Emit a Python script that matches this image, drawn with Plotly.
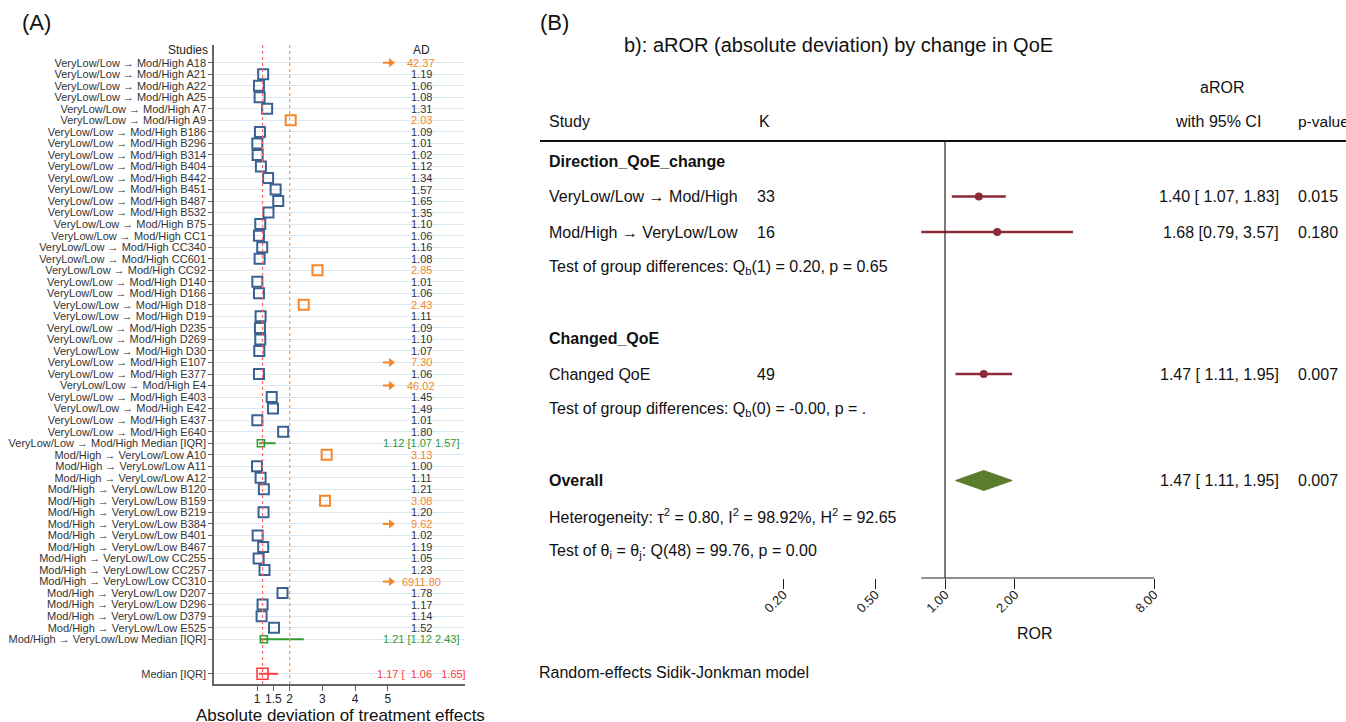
import plotly.graph_objects as go
import numpy as np

W, H = 1346, 722

# ---------------- Panel A data ----------------
vl_ids = ["A18", "A21", "A22", "A25", "A7", "A9", "B186", "B296", "B314", "B404", "B442",
          "B451", "B487", "B532", "B75", "CC1", "CC340", "CC601", "CC92", "D140", "D166",
          "D18", "D19", "D235", "D269", "D30", "E107", "E377", "E4", "E403", "E42", "E437", "E640"]
vl_ad = [42.37, 1.19, 1.06, 1.08, 1.31, 2.03, 1.09, 1.01, 1.02, 1.12, 1.34,
         1.57, 1.65, 1.35, 1.10, 1.06, 1.16, 1.08, 2.85, 1.01, 1.06,
         2.43, 1.11, 1.09, 1.10, 1.07, 7.30, 1.06, 46.02, 1.45, 1.49, 1.01, 1.80]
mh_ids = ["A10", "A11", "A12", "B120", "B159", "B219", "B384", "B401", "B467",
          "CC255", "CC257", "CC310", "D207", "D296", "D379", "E525"]
mh_ad = [3.13, 1.00, 1.11, 1.21, 3.08, 1.20, 9.62, 1.02, 1.19,
         1.05, 1.23, 6911.80, 1.78, 1.17, 1.14, 1.52]
vl_median_iqr = [1.12, 1.07, 1.57]
mh_median_iqr = [1.21, 1.12, 2.43]
all_median_iqr = [1.17, 1.06, 1.65]
vl_prefix = "VeryLow/Low \u2192 Mod/High"
mh_prefix = "Mod/High \u2192 VeryLow/Low"
a_ticks = [1, 1.5, 2, 3, 4, 5]

# ---------------- Panel B data ----------------
b_labels = ["VeryLow/Low \u2192 Mod/High", "Mod/High \u2192 VeryLow/Low", "Changed QoE"]
b_k = [33, 16, 49]
b_est = [1.40, 1.68, 1.47]
b_lo = [1.07, 0.79, 1.11]
b_hi = [1.83, 3.57, 1.95]
b_p = ["0.015", "0.180", "0.007"]
b_rows = [1, 2, 6]
overall_est, overall_lo, overall_hi, overall_p = 1.47, 1.11, 1.95, "0.007"
b_ticks = [0.2, 0.5, 1, 2, 8]
b_ticktext = ["0.20", "0.50", "1.00", "2.00", "8.00"]

# ---------------- style ----------------
SANS = "Liberation Sans, Arial, sans-serif"
BFONT = "Liberation Sans, Arial, sans-serif"
BSIZE = 16
BLUE = "#3a6190"
ORANGE = "#f5862a"
GREEN = "#2f9a2f"
RED = "#ff3d3d"
DARKRED = "#8c2a3a"
DGREEN = "#5b7d2b"
TXT = "#333333"
ORANGE_T, CAP_T = 2.0, 5.0

def px_x(p):
    return p / W

def px_y(p):
    return 1 - p / H

# ---------------- Panel A geometry ----------------
A_X0, A_X1 = 214, 465          # axis pixel extent
A_ZERO, A_UNIT = 224.3, 32.7   # pixel of value 0, px per unit
A_Y0, A_Y1 = 45, 684
ROW0, STEP = 62.7, 11.53

labels, values, kinds = [], [], []
for s, v in zip(vl_ids, vl_ad):
    labels.append(f"{vl_prefix} {s}"); values.append(v); kinds.append("study")
labels.append(f"{vl_prefix} Median [IQR]"); values.append(vl_median_iqr); kinds.append("sub")
for s, v in zip(mh_ids, mh_ad):
    labels.append(f"{mh_prefix} {s}"); values.append(v); kinds.append("study")
labels.append(f"{mh_prefix} Median [IQR]"); values.append(mh_median_iqr); kinds.append("sub")
pos = list(range(len(labels)))
labels.append("Median [IQR]"); values.append(all_median_iqr); kinds.append("all")
pos.append(pos[-1] + 3)

fig = go.Figure()

bx, by, ox, oy, ax_, ay_ = [], [], [], [], [], []
for p, v, k in zip(pos, values, kinds):
    if k != "study":
        continue
    if v > CAP_T:
        ax_.append(CAP_T); ay_.append(p)
    elif v > ORANGE_T:
        ox.append(v); oy.append(p)
    else:
        bx.append(v); by.append(p)

fig.add_trace(go.Scatter(x=bx, y=by, mode="markers", xaxis="x", yaxis="y",
                         marker=dict(symbol="square-open", size=10, color=BLUE, line=dict(width=2, color=BLUE))))
fig.add_trace(go.Scatter(x=ox, y=oy, mode="markers", xaxis="x", yaxis="y",
                         marker=dict(symbol="square-open", size=10, color=ORANGE, line=dict(width=2, color=ORANGE))))
# arrows for truncated values
shx, shy = [], []
for x, y in zip(ax_, ay_):
    shx += [x - 0.15, x + 0.05, None]; shy += [y, y, None]
fig.add_trace(go.Scatter(x=shx, y=shy, mode="lines", xaxis="x", yaxis="y",
                         line=dict(color=ORANGE, width=2)))
fig.add_trace(go.Scatter(x=[x + 0.1 for x in ax_], y=ay_, mode="markers", xaxis="x", yaxis="y",
                         marker=dict(symbol="triangle-right", size=8, color=ORANGE)))
# medians
for p, v, k in zip(pos, values, kinds):
    if k == "study":
        continue
    col = GREEN if k == "sub" else RED
    sz = 7 if k == "sub" else 11
    fig.add_trace(go.Scatter(x=[v[1], v[2]], y=[p, p], mode="lines", xaxis="x", yaxis="y",
                             line=dict(color=col, width=2)))
    fig.add_trace(go.Scatter(x=[v[0]], y=[p], mode="markers", xaxis="x", yaxis="y",
                             marker=dict(symbol="square-open", size=sz, color=col, line=dict(width=1.6, color=col))))

ann = []
TXT_X = 6.02
NB = "\u00a0"
for p, v, k in zip(pos, values, kinds):
    if k == "study":
        t = f"{v:.2f}"
        c = ORANGE if v > ORANGE_T else TXT
    elif k == "sub":
        t = f"{v[0]:.2f} [{v[1]:.2f} {v[2]:.2f}]"
        c = GREEN
    else:
        t = f"{v[0]:.2f} [{NB*2}{v[1]:.2f}{NB*3}{v[2]:.2f}]"
        c = RED
    ann.append(dict(x=TXT_X, y=p, xref="x", yref="y", text=t, showarrow=False,
                    xanchor="center", yanchor="middle", font=dict(family=SANS, size=11, color=c)))

ann.append(dict(x=px_x(210), y=px_y(50), xref="paper", yref="paper", text="Studies", showarrow=False,
                xanchor="right", yanchor="middle", font=dict(family=SANS, size=12, color="#222")))
ann.append(dict(x=px_x(421), y=px_y(50), xref="paper", yref="paper", text="AD", showarrow=False,
                xanchor="center", yanchor="middle", font=dict(family=SANS, size=12, color="#222")))
ann.append(dict(x=px_x(340), y=px_y(715), xref="paper", yref="paper",
                text="Absolute deviation of treatment effects", showarrow=False,
                xanchor="center", yanchor="middle", font=dict(family=SANS, size=17, color="#111")))
ann.append(dict(x=px_x(20), y=px_y(22), xref="paper", yref="paper", text="(A)", showarrow=False,
                xanchor="left", yanchor="middle", font=dict(family=SANS, size=22, color="#111")))
ann.append(dict(x=px_x(538), y=px_y(22), xref="paper", yref="paper", text="(B)", showarrow=False,
                xanchor="left", yanchor="middle", font=dict(family=SANS, size=22, color="#111")))

# ---------------- Panel B ----------------
B_X0, B_X1 = 700, 1200
B_ONE, B_DBL = 945, 69.7
B_DEC = B_DBL / np.log10(2)
B_Y0, B_Y1 = 141, 578
BROW0, BSTEP = 161, 35.5

for r, e, lo, hi in zip(b_rows, b_est, b_lo, b_hi):
    fig.add_trace(go.Scatter(x=[lo, hi], y=[r, r], mode="lines", xaxis="x2", yaxis="y2",
                             line=dict(color=DARKRED, width=2.5)))
    fig.add_trace(go.Scatter(x=[e], y=[r], mode="markers", xaxis="x2", yaxis="y2",
                             marker=dict(symbol="circle", size=8, color=DARKRED)))
OV_ROW, DH = 9, 0.28
fig.add_trace(go.Scatter(x=[overall_lo, overall_est, overall_hi, overall_est, overall_lo],
                         y=[OV_ROW, OV_ROW - DH, OV_ROW, OV_ROW + DH, OV_ROW],
                         mode="lines", fill="toself", fillcolor=DGREEN, xaxis="x2", yaxis="y2",
                         line=dict(color=DGREEN, width=1)))

def btxt(x, row, text, anchor="left", size=BSIZE):
    ann.append(dict(x=px_x(x), y=row, xref="paper", yref="y2", text=text, showarrow=False,
                    xanchor=anchor, yanchor="middle", font=dict(family=BFONT, size=size, color="#111")))

def ci_text(e, lo, hi):
    pad = NB if lo >= 1 else ""
    return f"{e:.2f} [{pad}{lo:.2f}, {hi:.2f}]"

L_X, K_X, CI_X, P_X = 547, 755, 1281, 1296
btxt(L_X, 0, "<b>Direction_QoE_change</b>")
btxt(L_X, 5, "<b>Changed_QoE</b>")
btxt(L_X, 9, "<b>Overall</b>")
for r, lab, k, e, lo, hi, p in zip(b_rows, b_labels, b_k, b_est, b_lo, b_hi, b_p):
    btxt(L_X, r, lab)
    btxt(K_X, r, str(k))
    btxt(CI_X, r, ci_text(e, lo, hi), anchor="right")
    btxt(P_X, r, p)
btxt(CI_X, OV_ROW, ci_text(overall_est, overall_lo, overall_hi), anchor="right")
btxt(P_X, OV_ROW, overall_p)
btxt(L_X, 3, "Test of group differences: Q<sub>b</sub>(1) = 0.20, p = 0.65")
btxt(L_X, 7, "Test of group differences: Q<sub>b</sub>(0) = -0.00, p = .")
btxt(L_X, 10, "Heterogeneity: \u03c4<sup>2</sup> = 0.80, I<sup>2</sup> = 98.92%, H<sup>2</sup> = 92.65")
btxt(L_X, 11, "Test of \u03b8<sub>i</sub> = \u03b8<sub>j</sub>: Q(48) = 99.76, p = 0.00")

def ptxt(x, y, text, anchor="left", size=BSIZE, family=BFONT):
    ann.append(dict(x=px_x(x), y=px_y(y), xref="paper", yref="paper", text=text, showarrow=False,
                    xanchor=anchor, yanchor="middle", font=dict(family=family, size=size, color="#111")))

ptxt(838, 45, "b): aROR (absolute deviation) by change in QoE", anchor="center", size=20, family=SANS)
ptxt(1222, 88, "aROR", anchor="center")
ptxt(L_X, 121, "Study")
ptxt(757, 121, "K")
ptxt(1263, 121, "with 95% CI", anchor="right")
ptxt(1296, 121, "p-value", size=15.5)
ptxt(1035, 633, "ROR", anchor="center")
ptxt(537, 672, "Random-effects Sidik-Jonkman model")

shapes = [
    dict(type="line", xref="x", yref="y domain", x0=all_median_iqr[0], x1=all_median_iqr[0], y0=0, y1=1,
         line=dict(color="#ff6a6a", width=1.2, dash="dot")),
    dict(type="line", xref="x", yref="y domain", x0=ORANGE_T, x1=ORANGE_T, y0=0, y1=1,
         line=dict(color="#ff9a40", width=1.2, dash="dot")),
    dict(type="line", xref="x2", yref="y2 domain", x0=1, x1=1, y0=0, y1=1,
         line=dict(color="#222", width=1.2)),
    dict(type="line", xref="x2", yref="y2 domain", x0=min(b_lo), x1=max(b_ticks), y0=0, y1=0,
         line=dict(color="#222", width=1.2)),
    dict(type="line", xref="paper", yref="paper", x0=px_x(540), x1=1, y0=px_y(B_Y0), y1=px_y(B_Y0),
         line=dict(color="#111", width=2)),
]

fig.update_layout(
    width=W, height=H, margin=dict(l=0, r=0, t=0, b=0),
    paper_bgcolor="white", plot_bgcolor="white", showlegend=False,
    annotations=ann, shapes=shapes,
    xaxis=dict(domain=[px_x(A_X0), px_x(A_X1)],
               range=[(A_X0 - A_ZERO) / A_UNIT, (A_X1 - A_ZERO) / A_UNIT],
               tickvals=a_ticks, ticktext=[f"{t:g}" for t in a_ticks],
               ticks="outside", ticklen=5, tickcolor="#666", showgrid=False, zeroline=False,
               showline=True, linecolor="#666", linewidth=1.5, ticklabelstandoff=-2,
               tickfont=dict(family=SANS, size=12, color="#222"), anchor="y"),
    yaxis=dict(domain=[px_y(A_Y1), px_y(A_Y0)],
               range=[(A_Y1 - ROW0) / STEP, (A_Y0 - ROW0) / STEP],
               tickvals=pos, ticktext=labels, ticks="outside", ticklen=4, tickcolor="#666",
               showgrid=True, gridcolor="#dbe8f1", gridwidth=1, zeroline=False,
               showline=True, linecolor="#666", linewidth=1.5,
               tickfont=dict(family=SANS, size=11, color=TXT), anchor="x"),
    xaxis2=dict(domain=[px_x(B_X0), px_x(B_X1)], type="log",
                range=[(B_X0 - B_ONE) / B_DEC, (B_X1 - B_ONE) / B_DEC],
                tickvals=b_ticks, ticktext=b_ticktext, tickangle=-45, ticklabelstandoff=-7,
                ticks="outside", ticklen=10, tickcolor="#222", showgrid=False, zeroline=False,
                showline=False, tickfont=dict(family=SANS, size=13, color="#222"), anchor="y2"),
    yaxis2=dict(domain=[px_y(B_Y1), px_y(B_Y0)],
                range=[(B_Y1 - BROW0) / BSTEP, (B_Y0 - BROW0) / BSTEP],
                visible=False, anchor="x2"),
)

fig.write_html("out.html", config={"displayModeBar": False},
               post_script="document.body.style.margin='0px';document.body.style.padding='0px';")
